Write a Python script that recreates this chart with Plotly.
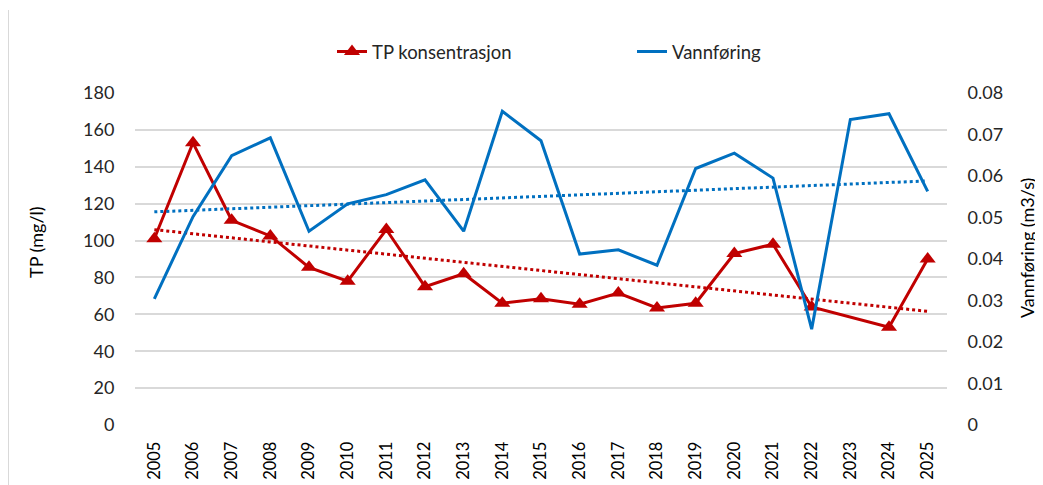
import numpy as np
import plotly.graph_objects as go

years = [str(y) for y in range(2005, 2026)]
tp = [101, 153, 111, 102.5, 85.5, 78, 106, 75, 82, 66, 68.5,
      65.5, 71.5, 63.5, 66, 93, 98, 64, None, 53, 90]
vann = [0.0304, 0.0502, 0.0649, 0.0692, 0.0467, 0.0533, 0.0555, 0.0591, 0.0467, 0.0756, 0.0685,
        0.0412, 0.0422, 0.0385, 0.0618, 0.0655, 0.0595, 0.0231, 0.0736, 0.0750, 0.0563]
left_ticks = list(range(0, 181, 20))
right_ticks = [i / 100 for i in range(0, 9)]

RED = "#C00000"
BLUE = "#0070C0"
FONT = "Lato"


def trend(vals):
    idx = np.array([i + 1 for i, v in enumerate(vals) if v is not None], dtype=float)
    yv = np.array([v for v in vals if v is not None], dtype=float)
    k, m = np.polyfit(idx, yv, 1)
    xs = np.arange(1, len(vals) + 1)
    return list(k * xs + m)


fig = go.Figure()
fig.add_trace(go.Scatter(x=years, y=trend(tp), mode="lines", showlegend=False,
                         line=dict(color=RED, width=3, dash="dot"), hoverinfo="skip"))
fig.add_trace(go.Scatter(x=years, y=trend(vann), mode="lines", showlegend=False, yaxis="y2",
                         line=dict(color=BLUE, width=3, dash="dot"), hoverinfo="skip"))
fig.add_trace(go.Scatter(x=years, y=tp, mode="lines+markers", name="TP konsentrasjon",
                         connectgaps=True,
                         line=dict(color=RED, width=3),
                         marker=dict(symbol="triangle-up", size=14, color=RED)))
fig.add_trace(go.Scatter(x=years, y=vann, mode="lines", name="Vannføring", yaxis="y2",
                         line=dict(color=BLUE, width=3)))

OFF = 8  # page body margin
W, H = 1043 - OFF, 485 - OFF
L, T = 135 - OFF, 93 - OFF
pw, ph = 812, 332
R, B = W - L - pw, H - T - ph


def px_x(p):
    return (p - OFF - L) / pw


def px_y(p):
    return (T + ph - (p - OFF)) / ph


fig.update_layout(
    width=W, height=H,
    margin=dict(l=L, r=R, t=T, b=B, autoexpand=False),
    paper_bgcolor="white", plot_bgcolor="white",
    font=dict(family=FONT, size=18, color="#404040"),
    xaxis=dict(type="category", range=[-0.5, 20.5], tickangle=-90,
               showgrid=False, zeroline=False, showline=False,
               ticks="outside", ticklen=9, tickcolor="rgba(0,0,0,0)",
               tickfont=dict(size=16.5, color="#000000")),
    yaxis=dict(range=[0, 180], tickvals=left_ticks, showgrid=True, gridcolor="#D9D9D9",
               gridwidth=1.5, zeroline=False, showline=False,
               ticks="outside", ticklen=16, tickcolor="rgba(0,0,0,0)",
               tickfont=dict(size=18, color="#262626")),
    yaxis2=dict(range=[0, 0.08], tickvals=right_ticks, overlaying="y", side="right",
                showgrid=False, zeroline=False, showline=False,
                ticks="outside", ticklen=16, tickcolor="rgba(0,0,0,0)",
                tickfont=dict(size=18, color="#262626")),
    legend=dict(orientation="h", x=px_x(332), y=px_y(52), xanchor="left", yanchor="middle",
                entrywidth=255, entrywidthmode="pixels",
                font=dict(size=18.5, color="#262626"), bgcolor="rgba(0,0,0,0)"),
    showlegend=True,
    annotations=[
        dict(text="TP (mg/l)", textangle=-90, x=px_x(36), y=px_y(242), xref="paper", yref="paper",
             xanchor="center", yanchor="middle",
             showarrow=False, font=dict(size=18, color="#000000")),
        dict(text="Vannføring (m3/s)", textangle=-90, x=px_x(1027), y=px_y(248), xref="paper",
             yref="paper", xanchor="center", yanchor="middle",
             showarrow=False, font=dict(size=18, color="#000000")),
    ],
    shapes=[dict(type="line", xref="paper", yref="paper", x0=px_x(8.5), x1=px_x(8.5),
                 y0=px_y(10), y1=px_y(485), line=dict(color="#D9D9D9", width=1))],
)

fig.write_html("out.html")
